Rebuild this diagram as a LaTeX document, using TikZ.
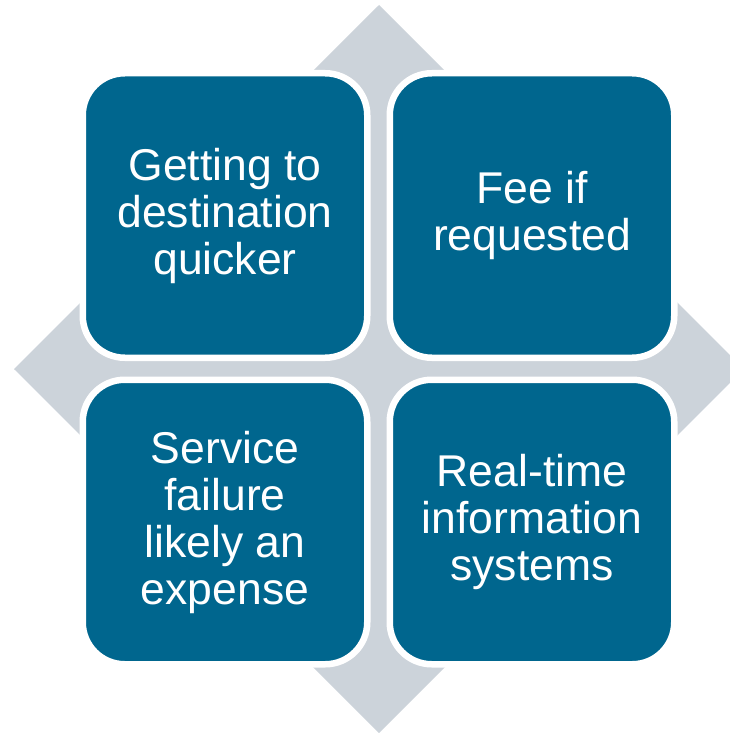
\documentclass[tikz,border=0pt]{standalone}
\usepackage{fontspec}
\setmainfont{Liberation Sans}
\usetikzlibrary{calc}
\definecolor{tileblue}{RGB}{0,102,142}
\definecolor{crossgrey}{RGB}{204,211,218}
\begin{document}
\begin{tikzpicture}[x=1pt,y=-1pt,
  tile/.style={draw=white, line width=6.5pt, fill=tileblue, rounded corners=42pt,
    minimum width=284.5pt, minimum height=284.5pt, inner sep=0pt,
    text=white, align=center, font=\fontsize{44.5}{47}\selectfont}]
\useasboundingbox (0,0) rectangle (730,733);
\clip (0,0) rectangle (730,733);
\coordinate (c) at (379,369);
\fill[crossgrey] ($(c)+(0,-364)$) -- ($(c)+(365,0)$) -- ($(c)+(0,364)$) -- ($(c)+(-365,0)$) -- cycle;
\node[tile] (tl) at (225,215.5) {Getting to\\destination\\quicker};
\node[tile] (tr) at (532,215.5) {Fee if\\requested};
\node[tile] (bl) at (225,522) {Service\\failure\\likely an\\expense};
\node[tile] (br) at (532,522) {Real-time\\information\\systems};
\end{tikzpicture}
\end{document}
